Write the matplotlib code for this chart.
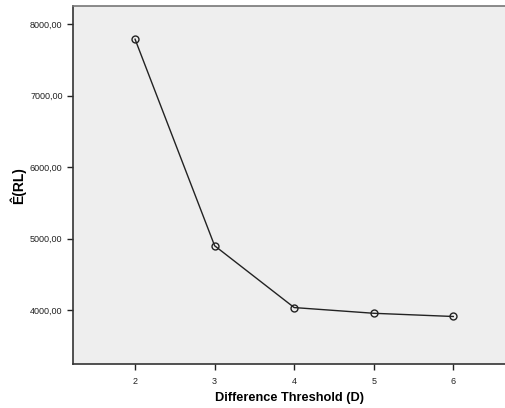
import matplotlib
matplotlib.use("Agg")
import matplotlib.pyplot as plt
from matplotlib.ticker import FuncFormatter

# values
thresholds = [2, 3, 4, 5, 6]
expected_rl = [7790, 4900, 4035, 3955, 3910]
y_ticks = [4000, 5000, 6000, 7000, 8000]

plt.rcParams['font.family'] = ['Liberation Sans', 'DejaVu Sans']

fig = plt.figure(figsize=(5.05, 4.08), dpi=100)
ax = fig.add_axes([0.1446, 0.1078, 0.8554, 0.877])
ax.set_facecolor('#eeeeee')

ax.plot(thresholds, expected_rl, color='#222222', linewidth=1.0,
        marker='o', markersize=5, markerfacecolor='none',
        markeredgecolor='#222222', markeredgewidth=1.0)

ax.set_xlim(1.22, 6.65)
ax.set_ylim(3245, 8252)
ax.set_xticks(thresholds)
ax.set_yticks(y_ticks)
ax.yaxis.set_major_formatter(FuncFormatter(lambda v, p: f"{v:.2f}".replace('.', ',')))

ax.tick_params(axis='both', labelsize=6.5, length=4, width=1, colors='#222222',
               direction='out')
ax.tick_params(axis='x', pad=5)

for side in ['left', 'bottom']:
    ax.spines[side].set_color('#333333')
    ax.spines[side].set_linewidth(1.2)
ax.spines['top'].set_color('#777777')
ax.spines['top'].set_linewidth(1.2)
ax.spines['right'].set_visible(False)

ax.set_xlabel('Difference Threshold (D)', fontsize=9.2, fontweight='bold', labelpad=5)
ax.set_ylabel('Ê(RL)', fontsize=10, fontweight='bold', labelpad=3)

fig.savefig('out.png', dpi=100)
